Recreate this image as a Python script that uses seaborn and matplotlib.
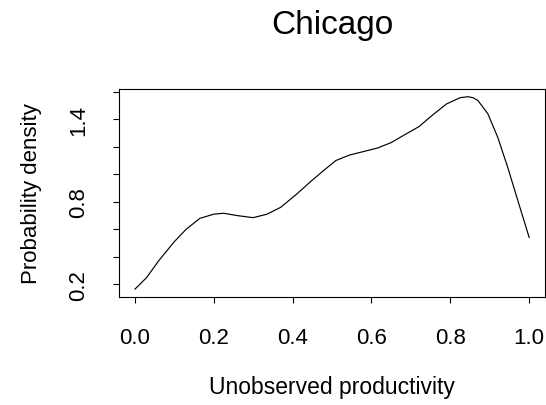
import matplotlib
matplotlib.use("Agg")
import matplotlib.pyplot as plt
import seaborn as sns
import pandas as pd

# Estimated density of unobserved productivity (Chicago)
productivity = [0.00, 0.03, 0.06, 0.10, 0.13, 0.165, 0.20, 0.225, 0.26, 0.30,
                0.335, 0.37, 0.41, 0.445, 0.48, 0.51, 0.545, 0.58, 0.615, 0.65,
                0.68, 0.72, 0.755, 0.79, 0.825, 0.845, 0.858, 0.87, 0.895, 0.92,
                0.945, 0.97, 1.00]
density = [0.165, 0.25, 0.37, 0.51, 0.60, 0.68, 0.71, 0.717, 0.70, 0.685,
           0.71, 0.76, 0.855, 0.945, 1.03, 1.10, 1.14, 1.165, 1.19, 1.23,
           1.28, 1.345, 1.43, 1.51, 1.556, 1.563, 1.555, 1.535, 1.44, 1.27,
           1.055, 0.82, 0.54]

x_ticks = [0.0, 0.2, 0.4, 0.6, 0.8, 1.0]
x_tick_labels = ["0.0", "0.2", "0.4", "0.6", "0.8", "1.0"]
y_ticks = [0.2, 0.4, 0.6, 0.8, 1.0, 1.2, 1.4, 1.6]
y_tick_labels = ["0.2", "", "", "0.8", "", "", "1.4", ""]

sns.set_theme(style="ticks")
plt.rcParams["font.family"] = ["Liberation Sans", "DejaVu Sans"]

df = pd.DataFrame({"x": productivity, "y": density})

W, H = 546, 406
fig = plt.figure(figsize=(W / 100, H / 100), dpi=100)
left, right, top, bottom = 119, 545, 90, 298
ax = fig.add_axes([left / W, 1 - bottom / H, (right - left) / W, (bottom - top) / H])

sns.lineplot(data=df, x="x", y="y", ax=ax, color="black", linewidth=0.85,
             sort=False, estimator=None)

# data range padded by 4% on each side
xr = max(productivity) - min(productivity)
yr = max(density) - min(density)
ax.set_xlim(min(productivity) - 0.04 * xr, max(productivity) + 0.04 * xr)
ax.set_ylim(min(density) - 0.04 * yr, max(density) + 0.04 * yr)

ax.set_xticks(x_ticks)
ax.set_xticklabels(x_tick_labels, fontsize=16)
ax.set_yticks(y_ticks)
ax.set_yticklabels(y_tick_labels, fontsize=16, rotation=90, va="center")
ax.tick_params(direction="out", length=4.3, width=0.8, color="black",
               labelcolor="black", pad=17)

for s in ax.spines.values():
    s.set_visible(True)
    s.set_color("black")
    s.set_linewidth(0.8)

ax.set_xlabel("Unobserved productivity", fontsize=16.5, color="black", labelpad=20)
ax.set_ylabel("Probability density", fontsize=16, color="black", labelpad=19)
ax.set_title("Chicago", fontsize=24, color="black", pad=40)

fig.savefig("out.png", dpi=100, facecolor="white")
